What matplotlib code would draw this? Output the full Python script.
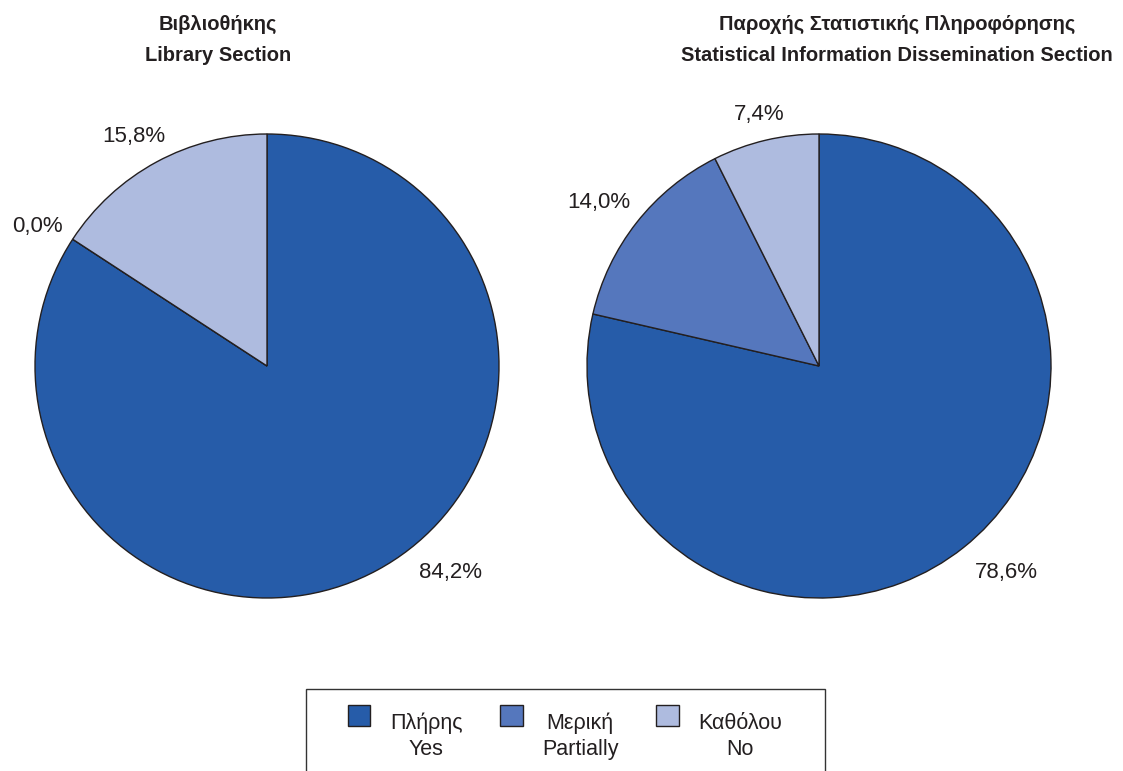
"""Two pie charts: completeness of library / dissemination sections"""

import matplotlib
matplotlib.use('Agg')
import matplotlib.pyplot as plt
from matplotlib.patches import Rectangle
from matplotlib.legend_handler import HandlerPatch

# data (percent)
categories = ['Πλήρης\nYes', 'Μερική\nPartially', 'Καθόλου\nNo']
library_values = [84.2, 0.0, 15.8]
dissemination_values = [78.6, 14.0, 7.4]
titles = ['Βιβλιοθήκης\nLibrary Section',
          'Παροχής Στατιστικής Πληροφόρησης\nStatistical Information Dissemination Section']

# where the percent labels sit, in pie radii from the centre
library_label_pos = [(0.793, -0.888), (-0.991, 0.603), (-0.573, 0.991)]
dissemination_label_pos = [(0.806, -0.888), (-0.948, 0.703), (-0.259, 1.082)]

colors = ['#265ca9', '#5577bd', '#aebbdf']
edge = '#231f20'
text_color = '#231f20'

plt.rcParams['font.family'] = ['Liberation Sans', 'DejaVu Sans']

fig = plt.figure(figsize=(11.23, 7.71), dpi=100)


def pct_label(p):
    return f'{p:.1f}%'.replace('.', ',')


def draw_pie(rect, values, label_pos):
    ax = fig.add_axes(rect)
    wedges, texts, autotexts = ax.pie(values, colors=colors, startangle=90, counterclock=False,
                                      autopct=pct_label,
                                      wedgeprops=dict(edgecolor=edge, linewidth=1.0),
                                      textprops=dict(fontsize=16, color=text_color))
    for a, pos in zip(autotexts, label_pos):
        a.set_position(pos)   # labels outside the pie
        a.set_clip_on(False)
    ax.set_xlim(-1, 1)
    ax.set_ylim(-1, 1)
    ax.set_aspect('equal')
    ax.axis('off')
    return wedges


w = 464 / 1123
h = 464 / 771
wedges = draw_pie([35 / 1123, 173 / 771, w, h], library_values, library_label_pos)
draw_pie([587 / 1123, 173 / 771, w, h], dissemination_values, dissemination_label_pos)

fig.text(218 / 1123, 0.948, titles[0], ha='center', va='center', fontsize=14.5,
         fontweight='bold', color=text_color, linespacing=1.85)
fig.text(897 / 1123, 0.948, titles[1], ha='center', va='center', fontsize=14.5,
         fontweight='bold', color=text_color, linespacing=1.85)


def square_up(legend, orig_handle, xdescent, ydescent, width, height, fontsize):
    # put the swatch next to the first (Greek) line of the label
    return Rectangle((-xdescent, -ydescent + 1.0 * fontsize), width, height)


leg = fig.legend(wedges, categories, loc='upper center', bbox_to_anchor=(0.503, 1 - 702 / 771),
                 ncol=3, fontsize=15.5, frameon=False, borderpad=0,
                 handlelength=1.05, handleheight=1.15,
                 handletextpad=0.9, columnspacing=1.75,
                 handler_map={p: HandlerPatch(patch_func=square_up) for p in wedges})
for t in leg.get_texts():
    t.set_multialignment('center')
    t.set_color(text_color)
    t.set_linespacing(1.3)

# legend frame runs off the bottom of the picture
fig.patches.append(Rectangle((306 / 1123, -0.01), 519 / 1123, 0.01 + 1 - 689 / 771,
                             transform=fig.transFigure, fill=False,
                             edgecolor='#333333', linewidth=1.0))

fig.savefig('out.png', dpi=100)
